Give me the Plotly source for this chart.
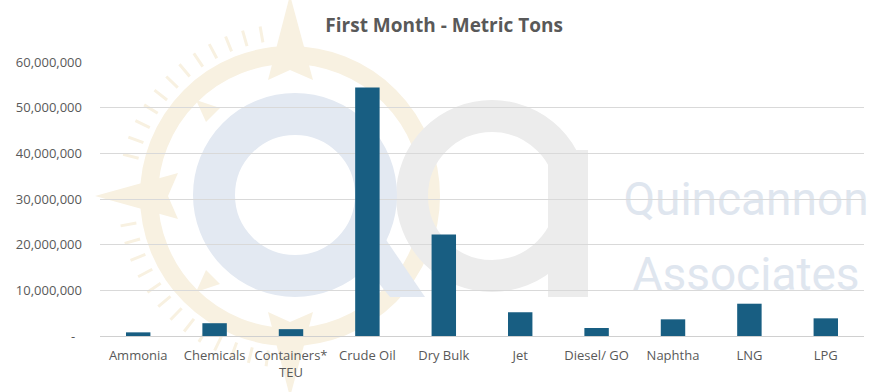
import math
import plotly.graph_objects as go

# ---- data ----
categories = ["Ammonia", "Chemicals", "Containers*<br>TEU", "Crude Oil", "Dry Bulk",
              "Jet", "Diesel/ GO", "Naphtha", "LNG", "LPG"]
metric_tons = [800000, 2800000, 1500000, 54400000, 22200000,
               5200000, 1750000, 3650000, 7070000, 3870000]
tick_values = [0, 10000000, 20000000, 30000000, 40000000, 50000000, 60000000]
tick_labels = ["-\u00a0\u00a0", "10,000,000", "20,000,000", "30,000,000",
               "40,000,000", "50,000,000", "60,000,000"]

W, H = 883, 392
ML, MR, MT, MB = 100, 19, 62, 56
PW, PH = W - ML - MR, H - MT - MB

def px(x):
    return (x - ML) / PW

def py(y):
    return (H - MB - y) / PH

BEIGE = "#f8f1e1"
BLUE_WM = "#e3e9f2"
GRAY_WM = "#ececec"

shapes = []

def ring(cx, cy, r, width, color):
    shapes.append(dict(type="circle", xref="paper", yref="paper", layer="below",
                       x0=px(cx - r), x1=px(cx + r), y0=py(cy + r), y1=py(cy - r),
                       line=dict(color=color, width=width), fillcolor="rgba(0,0,0,0)"))

def poly(points, color):
    d = "M " + " L ".join(f"{px(x):.5f},{py(y):.5f}" for x, y in points) + " Z"
    shapes.append(dict(type="path", xref="paper", yref="paper", layer="below", path=d,
                       fillcolor=color, line=dict(width=0)))

# compass watermark
ccx, ccy = 290, 196
ring(ccx, ccy, 141, 18, BEIGE)
poly([(290, -5), (313, 80), (290, 70), (268, 80)], BEIGE)
poly([(290, 397), (313, 312), (290, 322), (268, 312)], BEIGE)
poly([(95, 196), (178, 173), (168, 196), (178, 219)], BEIGE)
poly([(196, 100), (220, 108), (206, 122)], BEIGE)
poly([(196, 292), (220, 284), (206, 270)], BEIGE)
tick_path = []
for a in list(range(100, 172, 6)) + list(range(190, 264, 6)):
    t = math.radians(a)
    x1, y1 = ccx + 156 * math.cos(t), ccy - 156 * math.sin(t)
    x2, y2 = ccx + 172 * math.cos(t), ccy - 172 * math.sin(t)
    tick_path.append(f"M {px(x1):.5f},{py(y1):.5f} L {px(x2):.5f},{py(y2):.5f}")
shapes.append(dict(type="path", xref="paper", yref="paper", layer="below",
                   path=" ".join(tick_path), line=dict(color=BEIGE, width=3)))

# "a" (gray) watermark
ring(492, 196, 80, 32, GRAY_WM)
poly([(548, 150), (588, 150), (588, 297), (548, 297)], GRAY_WM)
# "q" (blue) watermark
ring(295, 195, 81, 42, BLUE_WM)
poly([(352, 250), (378, 228), (425, 297), (390, 297)], BLUE_WM)

# text watermark
for txt, yc in [("Quincannon", 196), ("Associates", 271)]:
    shapes.append(dict(type="rect", xref="paper", yref="paper", layer="below",
                       x0=px(620), x1=px(872), y0=py(yc + 30), y1=py(yc - 30),
                       line=dict(width=0), fillcolor="rgba(0,0,0,0)",
                       label=dict(text=txt, textposition="middle center",
                                  font=dict(family="Roboto", size=46, color="#dfe6ef"))))

fig = go.Figure(go.Bar(x=categories, y=metric_tons, marker=dict(color="#185e82", line=dict(width=0)),
                       width=0.32))

fig.update_layout(
    width=W, height=H,
    margin=dict(l=ML, r=MR, t=MT, b=MB),
    paper_bgcolor="white", plot_bgcolor="rgba(0,0,0,0)",
    title=dict(text="<b>First Month - Metric Tons</b>", x=0.503, xanchor="center",
               y=0.935, yanchor="middle",
               font=dict(family="Open Sans", size=19, color="#595959")),
    font=dict(family="Open Sans", size=13, color="#595959"),
    showlegend=False,
    shapes=shapes,
    xaxis=dict(showgrid=False, showline=True, linecolor="#d0d0d0", linewidth=1,
               tickfont=dict(size=13, color="#595959"), ticks="", ticklabelstandoff=7,
               fixedrange=True),
    yaxis=dict(range=[0, 60000000], tickvals=tick_values, ticktext=tick_labels,
               showgrid=True, gridcolor="#d9d9d9", gridwidth=1, zeroline=False,
               showline=False, ticks="", ticklabelstandoff=17,
               tickfont=dict(size=13, color="#595959")),
)

fig.write_html("out.html", config={"displayModeBar": False},
               post_script="document.body.style.margin='0';document.body.style.overflow='hidden';")
